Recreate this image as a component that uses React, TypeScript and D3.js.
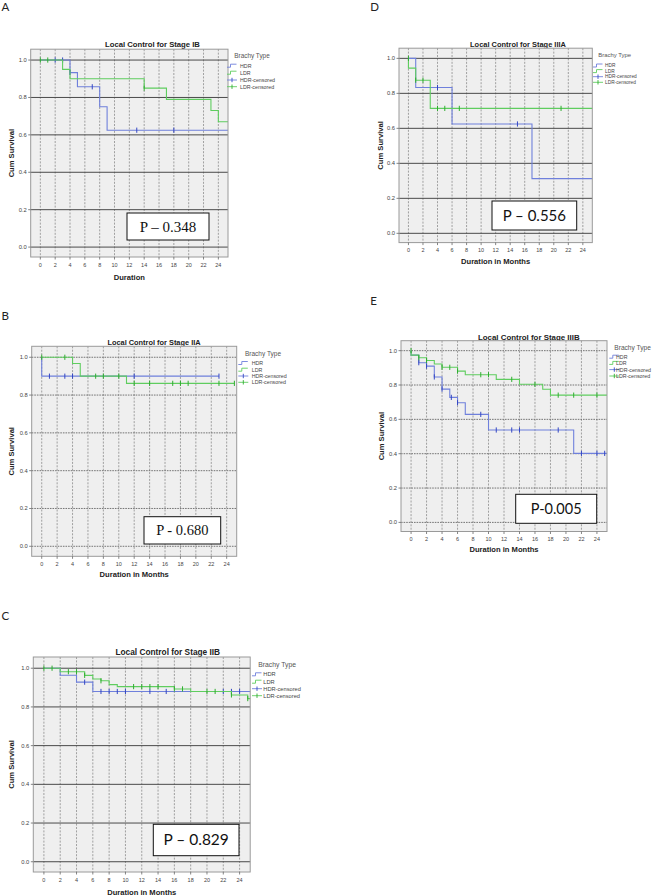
import * as d3 from 'd3'

// x ticks (months) and y ticks (cumulative survival), shared by all panels
const MONTH_TICKS = [0, 2, 4, 6, 8, 10, 12, 14, 16, 18, 20, 22, 24]
const SURV_TICKS = [0, 0.2, 0.4, 0.6, 0.8, 1.0]
const LEGEND_TITLE = 'Brachy Type'
const LEGEND_ITEMS = ['HDR', 'LDR', 'HDR-censored', 'LDR-censored']

// Stage IB
const ibHdrTime = [0, 4, 5, 8, 9]
const ibHdrSurv = [1, 0.933, 0.857, 0.75, 0.625]
const ibHdrCens = [2, 3, 4, 7, 13, 18]
const ibLdrTime = [0, 3, 4, 14, 17, 23, 24]
const ibLdrSurv = [1, 0.95, 0.9, 0.85, 0.79, 0.73, 0.67]
const ibLdrCens = [0, 1, 14]

// Stage IIA
const iiaHdrTime = [0, 0]
const iiaHdrSurv = [1, 0.9]
const iiaHdrCens = [1, 3, 4, 12, 23]
const iiaLdrTime = [0, 4, 5, 11]
const iiaLdrSurv = [1, 0.967, 0.9, 0.862]
const iiaLdrCens = [0, 3, 7, 8, 10, 12, 14, 17, 18, 19, 23, 25]

// Stage IIB
const iibHdrTime = [0, 2, 4, 6]
const iibHdrSurv = [1, 0.964, 0.928, 0.88]
const iibHdrCens = [5, 7, 8, 9, 10, 13, 15, 22, 23, 24]
const iibLdrTime = [0, 2, 5, 6, 7, 8, 9, 16, 18, 23, 25]
const iibLdrSurv = [1, 0.982, 0.963, 0.944, 0.935, 0.915, 0.905, 0.893, 0.88, 0.862, 0.843]
const iibLdrCens = [0, 1, 3, 4, 5, 7, 11, 12, 13, 14, 16, 17, 20, 21, 23, 25]

// Stage IIIA
const iiiaHdrTime = [0, 1, 6, 17]
const iiiaHdrSurv = [1, 0.833, 0.625, 0.3125]
const iiiaHdrCens = [4, 15]
const iiiaLdrTime = [0, 0, 1, 3]
const iiiaLdrSurv = [1, 0.944, 0.875, 0.714]
const iiiaLdrCens = [0, 1, 2, 4, 5, 7, 21]

// Stage IIIB
const iiibHdrTime = [0, 0, 1, 2, 3, 4, 5, 6, 7, 10, 21]
const iiibHdrSurv = [1, 0.974, 0.93, 0.91, 0.847, 0.776, 0.728, 0.697, 0.629, 0.538, 0.402]
const iiibHdrCens = [1, 2, 3, 4, 5.2, 6, 9, 11, 13, 14, 19, 22, 24, 25]
const iiibLdrTime = [0, 0, 1, 2, 3, 4, 6, 7, 11, 14, 17, 18]
const iiibLdrSurv = [1, 0.974, 0.959, 0.943, 0.922, 0.903, 0.881, 0.86, 0.833, 0.804, 0.775, 0.741]
const iiibLdrCens = [0, 1, 2, 4, 5, 6, 9, 10, 13, 16, 19, 21, 24]

const X_DOMAIN = [-1.3, 25.3]
const Y_DOMAIN = [-0.053, 1.058]
const FOLLOW_UP_END = 26

const HDR_LINE = '#6f80dc'
const HDR_MARK = '#3447c4'
const LDR_LINE = '#5fcd5f'
const LDR_MARK = '#2fae2f'
const SANS = "'Liberation Sans', Arial, sans-serif"
const SERIF = "'Liberation Serif', 'Times New Roman', serif"
const HUMAN = "Lato, 'Open Sans', sans-serif"

type Curve = { time: number[]; surv: number[]; cens: number[]; end: number }

const curve = (time: number[], surv: number[], cens: number[], end = FOLLOW_UP_END): Curve => ({ time, surv, cens, end })

const panels = [
  {
    id: 'A', letter: [1.5, 10.5], frame: { x: 30.7, y: 49.2, w: 197.3, h: 207.8 },
    title: 'Local Control for Stage IB', titlePos: [152.5, 46.8], titleSize: 7.7,
    xLabel: 'Duration', xLabelY: 279.8, yLabelX: 13.7, dashedH: false,
    legend: { x: 234.3, y: 56, items: [65.7, 72.7, 80, 86.7], iconX: 227, textX: 240, size: 5.3, titleSize: 6.4 },
    pbox: { x: 127, y: 213, w: 82, h: 27, text: 'P \u2013 0.348', font: SERIF, size: 15 },
    hdr: curve(ibHdrTime, ibHdrSurv, ibHdrCens),
    ldr: curve(ibLdrTime, ibLdrSurv, ibLdrCens),
  },
  {
    id: 'B', letter: [1.5, 320.3], frame: { x: 31.7, y: 346.3, w: 205, h: 210 },
    title: 'Local Control for Stage IIA', titlePos: [154, 345], titleSize: 7.4,
    xLabel: 'Duration in Months', xLabelY: 577, yLabelX: 14.4, dashedH: true,
    legend: { x: 245, y: 353.7, items: [363, 369.7, 376, 382.3], iconX: 238.3, textX: 251.7, size: 5.3, titleSize: 6.5 },
    pbox: { x: 144, y: 516.7, w: 76.7, h: 27.3, text: 'P - 0.680', font: SERIF, size: 14.5 },
    hdr: curve(iiaHdrTime, iiaHdrSurv, iiaHdrCens, 23),
    ldr: curve(iiaLdrTime, iiaLdrSurv, iiaLdrCens, 25),
  },
  {
    id: 'C', letter: [1.5, 619.5], frame: { x: 33.3, y: 657, w: 216.9, h: 215 },
    title: 'Local Control for Stage IIB', titlePos: [167.8, 654.6], titleSize: 8.3,
    xLabel: 'Duration in Months', xLabelY: 894.5, yLabelX: 13.8, dashedH: false,
    legend: { x: 258.3, y: 665, items: [674.3, 681.7, 688.7, 695.7], iconX: 252, textX: 263.3, size: 5.7, titleSize: 6.8 },
    pbox: { x: 153.3, y: 824.3, w: 85.7, h: 31.4, text: 'P \u2013 0.829', font: HUMAN, size: 15.5 },
    hdr: curve(iibHdrTime, iibHdrSurv, iibHdrCens),
    ldr: curve(iibLdrTime, iibLdrSurv, iibLdrCens),
  },
  {
    id: 'D', letter: [370.3, 10.8], frame: { x: 399, y: 48.2, w: 193.3, h: 194.4 },
    title: 'Local Control for Stage IIIA', titlePos: [518, 46.8], titleSize: 7.45,
    xLabel: 'Duration in Months', xLabelY: 263.5, yLabelX: 382.7, dashedH: false,
    legend: { x: 598.3, y: 55, items: [65.5, 71.1, 76.7, 82.3], iconX: 593, textX: 605, size: 4.8, titleSize: 5.9 },
    pbox: { x: 492, y: 201, w: 84.7, h: 29, text: 'P \u2013 0.556', font: HUMAN, size: 15 },
    hdr: curve(iiiaHdrTime, iiiaHdrSurv, iiiaHdrCens),
    ldr: curve(iiiaLdrTime, iiiaLdrSurv, iiiaLdrCens),
  },
  {
    id: 'E', letter: [370.3, 305.2], frame: { x: 401, y: 340.7, w: 206, h: 190.8 },
    title: 'Local Control for Stage IIIB', titlePos: [528.8, 339.5], titleSize: 7.9,
    xLabel: 'Duration in Months', xLabelY: 552, yLabelX: 384.4, dashedH: true,
    legend: { x: 614.3, y: 347.3, items: [356.7, 362.9, 369.6, 376], iconX: 609.3, textX: 616, size: 5.3, titleSize: 6.6 },
    pbox: { x: 515.7, y: 494.3, w: 81, h: 29, text: 'P-0.005', font: HUMAN, size: 14.5 },
    hdr: curve(iiibHdrTime, iiibHdrSurv, iiibHdrCens),
    ldr: curve(iiibLdrTime, iiibLdrSurv, iiibLdrCens),
  },
]

type Panel = (typeof panels)[number]

function survivalAt(c: Curve, t: number) {
  if (t <= c.time[0]) return c.surv[0]
  let s = c.surv[0]
  c.time.forEach((ti, i) => { if (ti <= t) s = c.surv[i] })
  return s
}

function KMPanel({ p }: { p: Panel }) {
  const { frame } = p
  const x = d3.scaleLinear().domain(X_DOMAIN).range([frame.x, frame.x + frame.w])
  const y = d3.scaleLinear().domain(Y_DOMAIN).range([frame.y + frame.h, frame.y])
  const line = d3
    .line<[number, number]>()
    .x((d) => x(d[0]))
    .y((d) => y(d[1]))
    .curve(d3.curveStepAfter)
  const clipId = `clip-${p.id}`
  const series = [
    { c: p.hdr, stroke: HDR_LINE, mark: HDR_MARK },
    { c: p.ldr, stroke: LDR_LINE, mark: LDR_MARK },
  ]
  const bottom = frame.y + frame.h
  const lg = p.legend

  return (
    <g>
      <text x={p.letter[0]} y={p.letter[1]} fontFamily={HUMAN} fontSize={11.5} fill="#222">{p.id}</text>
      <text x={p.titlePos[0]} y={p.titlePos[1]} textAnchor="middle" fontFamily={SANS} fontWeight="bold" fontSize={p.titleSize} fill="#222">
        {p.title}
      </text>

      <defs>
        <clipPath id={clipId}>
          <rect x={frame.x} y={frame.y} width={frame.w} height={frame.h} />
        </clipPath>
      </defs>
      <rect x={frame.x} y={frame.y} width={frame.w} height={frame.h} fill="#efefef" />

      {MONTH_TICKS.map((t) => (
        <line key={'v' + t} x1={x(t)} x2={x(t)} y1={frame.y} y2={bottom} stroke="#8c8c8c" strokeWidth={0.8} strokeDasharray="2,1.4" />
      ))}
      {SURV_TICKS.map((s) => (
        <line
          key={'h' + s}
          x1={frame.x}
          x2={frame.x + frame.w}
          y1={y(s)}
          y2={y(s)}
          stroke={p.dashedH ? '#666' : '#4a4a4a'}
          strokeWidth={p.dashedH ? 0.9 : 1}
          strokeDasharray={p.dashedH ? '1.6,1' : undefined}
        />
      ))}

      <g clipPath={`url(#${clipId})`}>
        {series.map(({ c, stroke, mark }, k) => {
          const pts: [number, number][] = c.time.map((t, i) => [t, c.surv[i]] as [number, number])
          pts.push([c.end, c.surv[c.surv.length - 1]])
          return (
            <g key={k}>
              <path d={line(pts) || ''} fill="none" stroke={stroke} strokeWidth={1.1} />
              {c.cens.map((t, i) => (
                <line key={i} x1={x(t)} x2={x(t)} y1={y(survivalAt(c, t)) - 2.6} y2={y(survivalAt(c, t)) + 2.6} stroke={mark} strokeWidth={1} />
              ))}
            </g>
          )
        })}
      </g>

      <rect x={frame.x} y={frame.y} width={frame.w} height={frame.h} fill="none" stroke="#9a9a9a" strokeWidth={1} />

      {SURV_TICKS.map((s) => (
        <g key={'yt' + s}>
          <line x1={frame.x - 2.5} x2={frame.x} y1={y(s)} y2={y(s)} stroke="#666" strokeWidth={0.8} />
          <text x={frame.x - 4} y={y(s) + 2} textAnchor="end" fontFamily={SANS} fontSize={5.8} fill="#444">
            {d3.format('.1f')(s)}
          </text>
        </g>
      ))}
      {MONTH_TICKS.map((t) => (
        <g key={'xt' + t}>
          <line x1={x(t)} x2={x(t)} y1={bottom} y2={bottom + 2.5} stroke="#666" strokeWidth={0.8} />
          <text x={x(t)} y={bottom + 9.5} textAnchor="middle" fontFamily={SANS} fontSize={5.5} fill="#444">
            {t}
          </text>
        </g>
      ))}

      <text x={frame.x + frame.w / 2} y={p.xLabelY} textAnchor="middle" fontFamily={SANS} fontWeight="bold" fontSize={7.6} fill="#222">
        {p.xLabel}
      </text>
      <text
        transform={`translate(${p.yLabelX},${frame.y + frame.h / 2}) rotate(-90)`}
        textAnchor="middle"
        fontFamily={SANS}
        fontWeight="bold"
        fontSize={7.6}
        fill="#222"
      >
        Cum Survival
      </text>

      <text x={lg.x} y={lg.y + lg.titleSize * 0.35} fontFamily={SANS} fontSize={lg.titleSize} fill="#555">
        {LEGEND_TITLE}
      </text>
      {LEGEND_ITEMS.map((label, i) => {
        const cy = lg.items[i]
        const color = i % 2 === 0 ? HDR_LINE : LDR_LINE
        const mark = i % 2 === 0 ? HDR_MARK : LDR_MARK
        const ix = lg.iconX
        return (
          <g key={label}>
            {i < 2 ? (
              <path d={`M${ix},${cy + 1.5}h3.5v-3h6`} fill="none" stroke={color} strokeWidth={0.9} />
            ) : (
              <g>
                <line x1={ix} x2={ix + 10} y1={cy} y2={cy} stroke={color} strokeWidth={0.9} />
                <line x1={ix + 5} x2={ix + 5} y1={cy - 2.2} y2={cy + 2.2} stroke={mark} strokeWidth={0.9} />
              </g>
            )}
            <text x={lg.textX} y={cy + lg.size * 0.36} fontFamily={SANS} fontSize={lg.size} fill="#444">
              {label}
            </text>
          </g>
        )
      })}

      <rect x={p.pbox.x} y={p.pbox.y} width={p.pbox.w} height={p.pbox.h} fill="#fff" stroke="#111" strokeWidth={1} />
      <text
        x={p.pbox.x + p.pbox.w / 2}
        y={p.pbox.y + p.pbox.h / 2 + p.pbox.size * 0.35}
        textAnchor="middle"
        fontFamily={p.pbox.font}
        fontSize={p.pbox.size}
        fill="#111"
      >
        {p.pbox.text}
      </text>
    </g>
  )
}

export default function App() {
  return (
    <svg width={656} height={895} style={{ position: 'absolute', left: 0, top: 0, background: '#fff' }}>
      {panels.map((p) => (
        <KMPanel key={p.id} p={p} />
      ))}
    </svg>
  )
}
